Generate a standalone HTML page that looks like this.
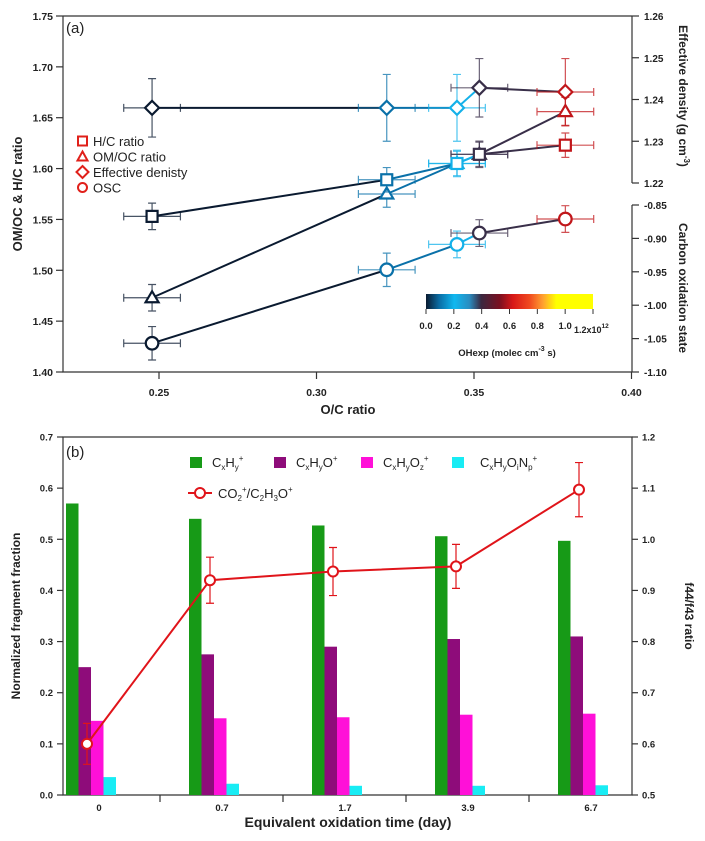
<!DOCTYPE html>
<html><head><meta charset="utf-8"><style>
html,body{margin:0;padding:0;background:#fff;}
svg{display:block;font-family:"Liberation Sans",Arial,sans-serif;}
</style></head><body>
<svg id="chart" width="705" height="841" viewBox="0 0 705 841">
<defs>
<linearGradient id="cbar" x1="0" x2="1" y1="0" y2="0">
<stop offset="0" stop-color="#0a1a30"/><stop offset="0.08" stop-color="#0a6ea6"/><stop offset="0.17" stop-color="#10b8f0"/><stop offset="0.26" stop-color="#2a8cc0"/><stop offset="0.33" stop-color="#3a2840"/><stop offset="0.44" stop-color="#7a1020"/><stop offset="0.52" stop-color="#d81818"/><stop offset="0.62" stop-color="#f04a20"/><stop offset="0.7" stop-color="#ffa030"/><stop offset="0.78" stop-color="#ffff00"/><stop offset="1" stop-color="#ffff00"/>
</linearGradient>
</defs>
<g id="pa"></g>
<g id="pb"></g>
</svg>
<script>
// ---------- Panel (a) data ----------
const ocRatio = [0.2478, 0.3223, 0.3446, 0.3517, 0.3790];
const ocErr = [0.009, 0.009, 0.009, 0.009, 0.009];
const hcRatio = [1.553, 1.589, 1.605, 1.614, 1.623];
const hcErr = [0.013, 0.012, 0.012, 0.012, 0.012];
const omocRatio = [1.473, 1.575, 1.605, 1.614, 1.656];
const omocErr = [0.013, 0.013, 0.013, 0.013, 0.014];
const effDensity = [1.238, 1.238, 1.238, 1.2428, 1.2418];
const densErr = [0.007, 0.008, 0.008, 0.007, 0.008];
const oscValues = [-1.057, -0.947, -0.909, -0.892, -0.871];
const oscErr = [0.025, 0.025, 0.02, 0.02, 0.02];
const ohExp = [0.0, 0.1, 0.22, 0.39, 0.6];
const xTicksA = [0.25, 0.30, 0.35, 0.40];
const yTicksA = [1.40, 1.45, 1.50, 1.55, 1.60, 1.65, 1.70, 1.75];
const densTicks = [1.22, 1.23, 1.24, 1.25, 1.26];
const oscTicks = [-0.85, -0.90, -0.95, -1.00, -1.05, -1.10];
const cbTicks = [0.0, 0.2, 0.4, 0.6, 0.8, 1.0];
// ---------- Panel (b) data ----------
const timeCats = ["0", "0.7", "1.7", "3.9", "6.7"];
const cxhy = [0.570, 0.540, 0.527, 0.506, 0.497];
const cxhyo = [0.250, 0.275, 0.290, 0.305, 0.310];
const cxhyoz = [0.145, 0.150, 0.152, 0.157, 0.159];
const cxhyoinp = [0.035, 0.022, 0.018, 0.018, 0.019];
const f44f43 = [0.600, 0.920, 0.937, 0.947, 1.097];
const f44Err = [0.040, 0.045, 0.047, 0.043, 0.053];
const yTicksB = [0.0, 0.1, 0.2, 0.3, 0.4, 0.5, 0.6, 0.7];
const y2TicksB = [0.5, 0.6, 0.7, 0.8, 0.9, 1.0, 1.1, 1.2];

const NS = "http://www.w3.org/2000/svg";
function mk(parent, tag, attrs, text) {
  const e = document.createElementNS(NS, tag);
  for (const k in attrs) e.setAttribute(k, attrs[k]);
  if (text !== undefined) e.textContent = text;
  parent.appendChild(e);
  return e;
}
const cmapStops = [[0,[10,26,48]],[0.08,[10,110,166]],[0.17,[16,184,240]],[0.26,[42,140,192]],[0.33,[58,40,64]],[0.44,[122,16,32]],[0.52,[216,24,24]],[0.62,[240,74,32]],[0.7,[255,160,48]],[0.78,[255,255,0]],[1,[255,255,0]]];
function cmap(v) {
  const t = Math.max(0, Math.min(1, v / 1.2));
  for (let i = 1; i < cmapStops.length; i++) {
    if (t <= cmapStops[i][0]) {
      const a = cmapStops[i-1], b = cmapStops[i];
      const f = (t - a[0]) / (b[0] - a[0]);
      const c = a[1].map((x, j) => Math.round(x + (b[1][j] - x) * f));
      return `rgb(${c[0]},${c[1]},${c[2]})`;
    }
  }
  return "rgb(255,255,0)";
}

// ---------- Panel (a) ----------
const A = document.getElementById("pa");
const aL = 63, aR = 632, aT = 16, aB = 372;
const xA = v => 159 + (v - 0.25) * 3150;
const yA = v => aB - (v - 1.40) / 0.35 * (aB - aT);
const yD = v => 183 - (v - 1.22) / 0.04 * 167;
const yO = v => 205 + (-0.85 - v) / 0.25 * 167;

let ax = mk(A, "g", {});


mk(ax, "path", {d:`M${aL},${aT}H${aR}M${aL},${aT}V${aB}H${aR}`, stroke:"#333", "stroke-width":1.2, fill:"none"});
mk(ax, "line", {x1:aR, y1:aT, x2:aR, y2:183, stroke:"#333", "stroke-width":1.2});
mk(ax, "line", {x1:aR, y1:205, x2:aR, y2:aB, stroke:"#333", "stroke-width":1.2});
yTicksA.forEach(v => {
  const y = yA(v);
  mk(ax, "line", {x1:aL-7, y1:y, x2:aL, y2:y, stroke:"#333", "stroke-width":1.2});
  const t = mk(ax, "text", {x:aL-10, y:y+4, "text-anchor":"end", "font-size":10.5, "font-weight":"bold", fill:"#222"}, v.toFixed(2));
  
  
});
xTicksA.forEach(v => {
  const x = xA(v);
  mk(ax, "line", {x1:x, y1:aB, x2:x, y2:aB+7, stroke:"#333", "stroke-width":1.2});
  const t = mk(ax, "text", {x:x, y:aB+24, "text-anchor":"middle", "font-size":10.5, "font-weight":"bold", fill:"#222"}, v.toFixed(2));
  
  
});
densTicks.forEach(v => {
  const y = yD(v);
  mk(ax, "line", {x1:aR, y1:y, x2:aR+7, y2:y, stroke:"#333", "stroke-width":1.2});
  const t = mk(ax, "text", {x:aR+12, y:y+4, "font-size":10, "font-weight":"bold", fill:"#222"}, v.toFixed(2));
  
  
});
oscTicks.forEach(v => {
  const y = yO(v);
  mk(ax, "line", {x1:aR, y1:y, x2:aR+7, y2:y, stroke:"#333", "stroke-width":1.2});
  const t = mk(ax, "text", {x:aR+12, y:y+4, "font-size":10, "font-weight":"bold", fill:"#222"}, v.toFixed(2));
  
  
});
let t;
t = mk(A, "text", {x:66, y:33, "font-size":15, fill:"#222"}, "(a)");
 
t = mk(A, "text", {transform:"translate(22,194) rotate(-90)", "text-anchor":"middle", "font-size":13, "font-weight":"bold", fill:"#222"}, "OM/OC & H/C ratio");
 
t = mk(A, "text", {x:348, y:414, "text-anchor":"middle", "font-size":13, "font-weight":"bold", fill:"#222"}, "O/C ratio");
 
t = mk(A, "text", {transform:"translate(679,96) rotate(90)", "text-anchor":"middle", "font-size":12, "font-weight":"bold", fill:"#222"});
 
mk(t, "tspan", {}, "Effective density (g cm");
mk(t, "tspan", {dy:-5, "font-size":8}, "-3");
mk(t, "tspan", {dy:5}, ")");
t = mk(A, "text", {transform:"translate(679,288) rotate(90)", "text-anchor":"middle", "font-size":12, "font-weight":"bold", fill:"#222"}, "Carbon oxidation state");
 

function marker(g, shape, x, y, col) {
  let e;
  if (shape === "sq") e = mk(g, "rect", {x:x-5.5, y:y-5.5, width:11, height:11});
  else if (shape === "tri") e = mk(g, "path", {d:`M${x},${y-6.5}L${x+6.5},${y+4.5}L${x-6.5},${y+4.5}Z`});
  else if (shape === "dia") e = mk(g, "path", {d:`M${x},${y-7}L${x+7},${y}L${x},${y+7}L${x-7},${y}Z`});
  else e = mk(g, "circle", {cx:x, cy:y, r:6.3});
  e.setAttribute("fill", "#fff"); e.setAttribute("stroke", col); e.setAttribute("stroke-width", 2.2);
  return e;
}
function series(name, ys, errs, yf, shape) {
  const g = mk(A, "g", {});
  
  
  for (let i = 0; i < ys.length - 1; i++) {
    mk(g, "line", {x1:xA(ocRatio[i]), y1:yf(ys[i]), x2:xA(ocRatio[i+1]), y2:yf(ys[i+1]), stroke:cmap(ohExp[i]), "stroke-width":2});
  }
  ys.forEach((v, i) => {
    const c = cmap(ohExp[i]), x = xA(ocRatio[i]), y = yf(v);
    const x1 = xA(ocRatio[i]-ocErr[i]), x2 = xA(ocRatio[i]+ocErr[i]);
    const y1 = yf(v + errs[i]), y2 = yf(v - errs[i]);
    const eb = mk(g, "path", {d:`M${x1},${y}H${x2}M${x1},${y-4}V${y+4}M${x2},${y-4}V${y+4}M${x},${y1}V${y2}M${x-4},${y1}H${x+4}M${x-4},${y2}H${x+4}`, stroke:c, "stroke-width":1.2, fill:"none", opacity:0.75});
    
    
  });
  ys.forEach((v, i) => {
    const m = marker(g, shape, xA(ocRatio[i]), yf(v), cmap(ohExp[i]));
    
    
  });
}
series("density-series", effDensity, densErr, yD, "dia");
series("omoc-series", omocRatio, omocErr, yA, "tri");
series("hc-series", hcRatio, hcErr, yA, "sq");
series("osc-series", oscValues, oscErr, yO, "circ");

const legA = mk(A, "g", {});


[["sq","H/C ratio"],["tri","OM/OC ratio"],["dia","Effective denisty"],["circ","OSC"]].forEach((d, i) => {
  const y = 141 + i * 15.5;
  const g = mk(legA, "g", {});
  
  
  if (d[0] === "sq") mk(g, "rect", {x:78, y:y-4.5, width:9, height:9, fill:"#fff", stroke:"#e0201a", "stroke-width":2});
  else if (d[0] === "tri") mk(g, "path", {d:`M82.5,${y-5}L87.5,${y+4}L77.5,${y+4}Z`, fill:"#fff", stroke:"#e0201a", "stroke-width":2});
  else if (d[0] === "dia") mk(g, "path", {d:`M82.5,${y-6}L88.5,${y}L82.5,${y+6}L76.5,${y}Z`, fill:"#fff", stroke:"#e0201a", "stroke-width":2});
  else mk(g, "circle", {cx:82.5, cy:y, r:4.5, fill:"#fff", stroke:"#e0201a", "stroke-width":2});
  mk(g, "text", {x:93, y:y+5, "font-size":13, fill:"#222"}, d[1]);
});
const cb = mk(A, "g", {});


mk(cb, "rect", {x:426, y:294, width:167, height:15, fill:"url(#cbar)"});
const xCb = v => 426 + v / 1.2 * 167;
cbTicks.concat([1.2]).forEach(v => mk(cb, "line", {x1:xCb(v), y1:309, x2:xCb(v), y2:314, stroke:"#333", "stroke-width":1}));
cbTicks.forEach(v => mk(cb, "text", {x:xCb(v), y:329, "text-anchor":"middle", "font-size":9.5, "font-weight":"bold", fill:"#222"}, v.toFixed(1)));
t = mk(cb, "text", {x:574, y:333, "font-size":9, "font-weight":"bold", fill:"#222"});
mk(t, "tspan", {}, "1.2x10");
mk(t, "tspan", {dy:-5, "font-size":6.5}, "12");
t = mk(cb, "text", {x:507, y:356, "text-anchor":"middle", "font-size":9.5, "font-weight":"bold", fill:"#222"});
 
mk(t, "tspan", {}, "OHexp (molec cm");
mk(t, "tspan", {dy:-5, "font-size":7}, "-3");
mk(t, "tspan", {dy:5}, " s)");

// ---------- Panel (b) ----------
const B = document.getElementById("pb");
const bL = 63, bR = 632, bT = 437, bB = 795;
const yB = v => bB - v / 0.7 * (bB - bT);
const yB2 = v => bB - (v - 0.5) / 0.7 * (bB - bT);
const slot = 123, grp0 = 66, bw = 12.5;
const xCat = i => grp0 + i * slot;

const bax = mk(B, "g", {});


mk(bax, "path", {d:`M${bL},${bT}H${bR}V${bB}H${bL}Z`, stroke:"#333", "stroke-width":1.2, fill:"none"});
yTicksB.forEach(v => {
  const y = yB(v);
  mk(bax, "line", {x1:bL-6, y1:y, x2:bL, y2:y, stroke:"#333", "stroke-width":1.2});
  mk(bax, "text", {x:bL-10, y:y+3.5, "text-anchor":"end", "font-size":9.5, "font-weight":"bold", fill:"#222"}, v.toFixed(1));
});
y2TicksB.forEach(v => {
  const y = yB2(v);
  mk(bax, "line", {x1:bR, y1:y, x2:bR+6, y2:y, stroke:"#333", "stroke-width":1.2});
  mk(bax, "text", {x:bR+10, y:y+3.5, "font-size":9.5, "font-weight":"bold", fill:"#222"}, v.toFixed(1));
});
timeCats.forEach((c, i) => {
  if (i > 0) mk(bax, "line", {x1:xCat(i)-29, y1:bB, x2:xCat(i)-29, y2:bB+7, stroke:"#333", "stroke-width":1.2});
  const tt = mk(bax, "text", {x:xCat(i)+33, y:bB+16, "text-anchor":"middle", "font-size":9.5, "font-weight":"bold", fill:"#222"}, c);
  
  
});
t = mk(B, "text", {x:66, y:457, "font-size":15, fill:"#222"}, "(b)");
 
t = mk(B, "text", {transform:"translate(20,616) rotate(-90)", "text-anchor":"middle", "font-size":12, "font-weight":"bold", fill:"#222"}, "Normalized fragment fraction");
 
t = mk(B, "text", {transform:"translate(685,616) rotate(90)", "text-anchor":"middle", "font-size":12, "font-weight":"bold", fill:"#222"}, "f44/f43 ratio");
 
t = mk(B, "text", {x:348, y:827, "text-anchor":"middle", "font-size":14, "font-weight":"bold", fill:"#222"}, "Equivalent oxidation time (day)");
 

const barSets = [[cxhy, "#179a17", "bar-cxhy"], [cxhyo, "#8e0c7a", "bar-cxhyo"], [cxhyoz, "#ff10d8", "bar-cxhyoz"], [cxhyoinp, "#18ecf4", "bar-cxhyoinp"]];
barSets.forEach((s, k) => {
  s[0].forEach((v, i) => {
    const r = mk(B, "rect", {x:xCat(i) + k * bw, y:yB(v), width:bw, height:yB(0) - yB(v), fill:s[1]});
    
    
  });
});
const lg = mk(B, "g", {});


const lx = i => xCat(i) + 21;
mk(lg, "polyline", {points:f44f43.map((v, i) => `${lx(i)},${yB2(v)}`).join(" "), fill:"none", stroke:"#e0141a", "stroke-width":2});
f44f43.forEach((v, i) => {
  const x = lx(i), y1 = yB2(v + f44Err[i]), y2 = yB2(v - f44Err[i]);
  mk(lg, "path", {d:`M${x},${y1}V${y2}M${x-4},${y1}H${x+4}M${x-4},${y2}H${x+4}`, stroke:"#e0141a", "stroke-width":1.2, fill:"none"});
});
f44f43.forEach((v, i) => {
  const c = mk(lg, "circle", {cx:lx(i), cy:yB2(v), r:5, fill:"#fff", stroke:"#e0141a", "stroke-width":2});
  
  
});
const legB = mk(B, "g", {});


function chem(parent, x, y, parts) {
  const tx = mk(parent, "text", {x:x, y:y, "font-size":13, fill:"#222"});
  parts.forEach(p => {
    if (p[1] === 0) mk(tx, "tspan", {}, p[0]);
    else if (p[1] === 1) { mk(tx, "tspan", {dy:3, "font-size":8}, p[0]); mk(tx, "tspan", {dy:-3, "font-size":13}, "\u200b"); }
    else { mk(tx, "tspan", {dy:-6, "font-size":8}, p[0]); mk(tx, "tspan", {dy:6, "font-size":13}, "\u200b"); }
  });
}
const lb = [[190, "#179a17", [["C",0],["x",1],["H",0],["y",1],["+",2]]],
            [274, "#8e0c7a", [["C",0],["x",1],["H",0],["y",1],["O",0],["+",2]]],
            [361, "#ff10d8", [["C",0],["x",1],["H",0],["y",1],["O",0],["z",1],["+",2]]],
            [452, "#18ecf4", [["C",0],["x",1],["H",0],["y",1],["O",0],["i",1],["N",0],["p",1],["+",2]]]];
lb.forEach(d => {
  const g = mk(legB, "g", {});
  
  
  mk(g, "rect", {x:d[0], y:457, width:12, height:11, fill:d[1]});
  chem(g, d[0] + (d[0] === 452 ? 28 : 22), 467, d[2]);
});
const g2 = mk(legB, "g", {});


mk(g2, "line", {x1:188, y1:493, x2:212, y2:493, stroke:"#e0141a", "stroke-width":2});
mk(g2, "circle", {cx:200, cy:493, r:5, fill:"#fff", stroke:"#e0141a", "stroke-width":2});
chem(g2, 218, 498, [["CO",0],["2",1],["+",2],["/C",0],["2",1],["H",0],["3",1],["O",0],["+",2]]);
</script>
</body></html>
